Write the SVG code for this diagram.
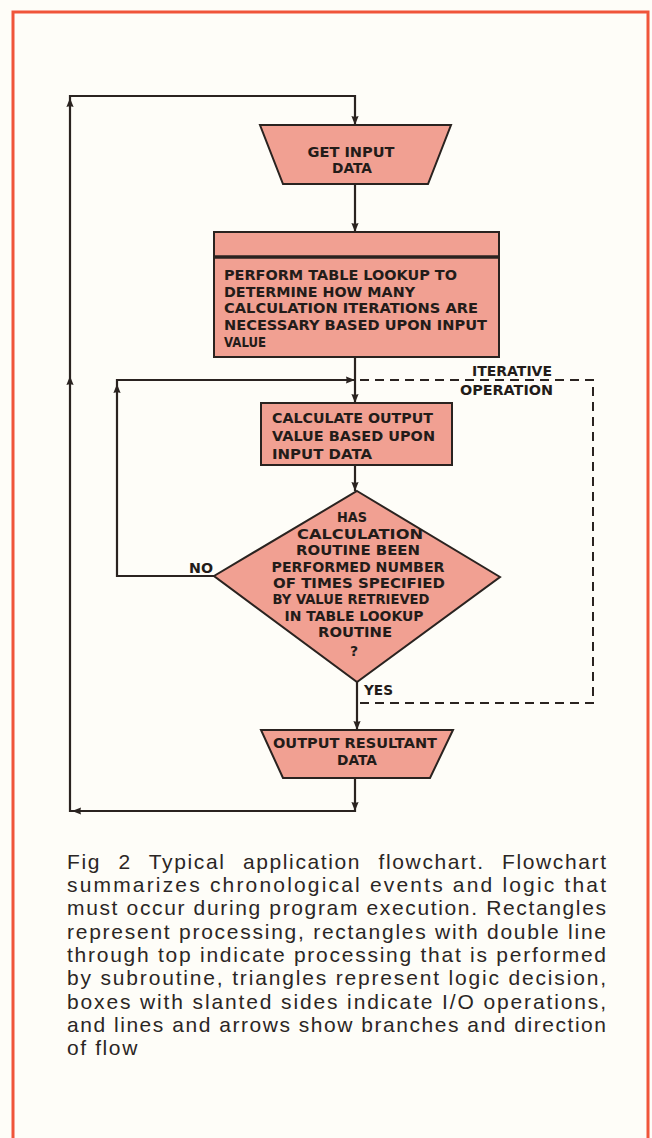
<svg xmlns="http://www.w3.org/2000/svg" width="652" height="1138" viewBox="0 0 652 1138">
<style>
.bg{fill:#fefdf8}
.frame{fill:none;stroke:#f0553a;stroke-width:3}
.shape{fill:#f1a092;stroke:#2a2320;stroke-width:2}
.ln{fill:none;stroke:#2a2320;stroke-width:2.2}
.dash{fill:none;stroke:#2a2320;stroke-width:2;stroke-dasharray:9 6}
.t{font-family:"DejaVu Sans",sans-serif;font-weight:bold;font-size:14px;fill:#231c19}
.tc{text-anchor:middle}
.cap{font-family:"Liberation Sans",Arial,sans-serif;font-size:21px;fill:#2b2624}
</style>
<defs>
<path id="ah" d="M0,0 L-3.6,-9 Q0,-7.5 3.6,-9 Z" fill="#2a2320"/>
</defs>
<rect class="bg" x="0" y="0" width="652" height="1138"/>
<rect class="frame" x="13" y="12" width="635" height="1140"/>

<g id="connectors">
  <polyline class="ln" points="355,778 355,811 70,811 70,96 355,96 355,125"/>
  <use href="#ah" transform="translate(355,125)"/>
  <use href="#ah" transform="translate(355,811)"/>
  <use href="#ah" transform="translate(72,811) rotate(90)"/>
  <use href="#ah" transform="translate(70,376) rotate(180)"/>
  <use href="#ah" transform="translate(70,98) rotate(180)"/>
  <line class="ln" x1="355" y1="184" x2="355" y2="232"/>
  <use href="#ah" transform="translate(355,232)"/>
  <line class="ln" x1="355" y1="357" x2="355" y2="403"/>
  <use href="#ah" transform="translate(355,403)"/>
  <use href="#ah" transform="translate(355,380) rotate(-90)"/>
  <line class="ln" x1="355" y1="465" x2="355" y2="491"/>
  <use href="#ah" transform="translate(355,491)"/>
  <polyline class="ln" points="214,576 117,576 117,380 355,380"/>
  <use href="#ah" transform="translate(117,384) rotate(180)"/>
  <line class="ln" x1="357" y1="682" x2="357" y2="730"/>
  <use href="#ah" transform="translate(357,730)"/>
  <polyline class="dash" points="360,380 593,380 593,703 360,703"/>
  <text class="t" x="472" y="376" textLength="80" lengthAdjust="spacingAndGlyphs">ITERATIVE</text>
  <text class="t" x="460" y="395" textLength="93" lengthAdjust="spacingAndGlyphs">OPERATION</text>
  <text class="t" x="189" y="573" textLength="24" lengthAdjust="spacingAndGlyphs">NO</text>
  <text class="t" x="364" y="695" textLength="29" lengthAdjust="spacingAndGlyphs">YES</text>
</g>

<g id="get-input">
  <polygon class="shape" points="260,125 451,125 428,184 283,184"/>
  <text class="t tc" x="351" y="157" textLength="87" lengthAdjust="spacingAndGlyphs">GET INPUT</text>
  <text class="t tc" x="352" y="173" textLength="40" lengthAdjust="spacingAndGlyphs">DATA</text>
</g>

<g id="table-lookup">
  <rect class="shape" x="214" y="232" width="285" height="125"/>
  <line x1="214" y1="257" x2="499" y2="257" stroke="#2a2320" stroke-width="3.5"/>
  <text class="t" x="224" y="280" textLength="233" lengthAdjust="spacingAndGlyphs">PERFORM  TABLE  LOOKUP  TO</text>
  <text class="t" x="224" y="297" textLength="191" lengthAdjust="spacingAndGlyphs">DETERMINE HOW MANY</text>
  <text class="t" x="224" y="313" textLength="254" lengthAdjust="spacingAndGlyphs">CALCULATION  ITERATIONS  ARE</text>
  <text class="t" x="224" y="330" textLength="263" lengthAdjust="spacingAndGlyphs">NECESSARY BASED UPON INPUT</text>
  <text class="t" x="224" y="347" textLength="42" lengthAdjust="spacingAndGlyphs">VALUE</text>
</g>

<g id="calculate">
  <rect class="shape" x="261" y="403" width="191" height="62"/>
  <text class="t" x="272" y="423" textLength="161" lengthAdjust="spacingAndGlyphs">CALCULATE  OUTPUT</text>
  <text class="t" x="272" y="441" textLength="163" lengthAdjust="spacingAndGlyphs">VALUE BASED UPON</text>
  <text class="t" x="272" y="459" textLength="100" lengthAdjust="spacingAndGlyphs">INPUT  DATA</text>
</g>

<g id="decision">
  <polygon class="shape" points="357,491 500,577 357,682 214,576"/>
  <text class="t tc" x="352" y="522" textLength="30" lengthAdjust="spacingAndGlyphs">HAS</text>
  <text class="t tc" x="360" y="539" textLength="126" lengthAdjust="spacingAndGlyphs">CALCULATION</text>
  <text class="t tc" x="358" y="555" textLength="124" lengthAdjust="spacingAndGlyphs">ROUTINE  BEEN</text>
  <text class="t tc" x="358" y="572" textLength="173" lengthAdjust="spacingAndGlyphs">PERFORMED  NUMBER</text>
  <text class="t tc" x="359" y="588" textLength="172" lengthAdjust="spacingAndGlyphs">OF TIMES  SPECIFIED</text>
  <text class="t tc" x="351" y="604" textLength="157" lengthAdjust="spacingAndGlyphs">BY VALUE RETRIEVED</text>
  <text class="t tc" x="354" y="621" textLength="139" lengthAdjust="spacingAndGlyphs">IN TABLE LOOKUP</text>
  <text class="t tc" x="355" y="637" textLength="74" lengthAdjust="spacingAndGlyphs">ROUTINE</text>
  <text class="t tc" x="354" y="656">?</text>
</g>

<g id="output">
  <polygon class="shape" points="261,730 453,730 430,778 283,778"/>
  <text class="t tc" x="355" y="748" textLength="164" lengthAdjust="spacingAndGlyphs">OUTPUT   RESULTANT</text>
  <text class="t tc" x="357" y="765" textLength="40" lengthAdjust="spacingAndGlyphs">DATA</text>
</g>

<g id="caption" class="cap">
  <text x="67" y="869" textLength="539" lengthAdjust="spacing" word-spacing="10">Fig 2 Typical application flowchart. Flowchart</text>
  <text x="67" y="892" textLength="539" lengthAdjust="spacing">summarizes chronological events and logic that</text>
  <text x="67" y="915" textLength="539" lengthAdjust="spacing">must occur during program execution. Rectangles</text>
  <text x="67" y="939" textLength="539" lengthAdjust="spacing">represent processing, rectangles with double line</text>
  <text x="67" y="962" textLength="539" lengthAdjust="spacing">through top indicate processing that is performed</text>
  <text x="67" y="985" textLength="539" lengthAdjust="spacing">by subroutine, triangles represent logic decision,</text>
  <text x="67" y="1009" textLength="539" lengthAdjust="spacing">boxes with slanted sides indicate I/O operations,</text>
  <text x="67" y="1032" textLength="539" lengthAdjust="spacing">and lines and arrows show branches and direction</text>
  <text x="67" y="1055" letter-spacing="1.6">of flow</text>
</g>
</svg>
